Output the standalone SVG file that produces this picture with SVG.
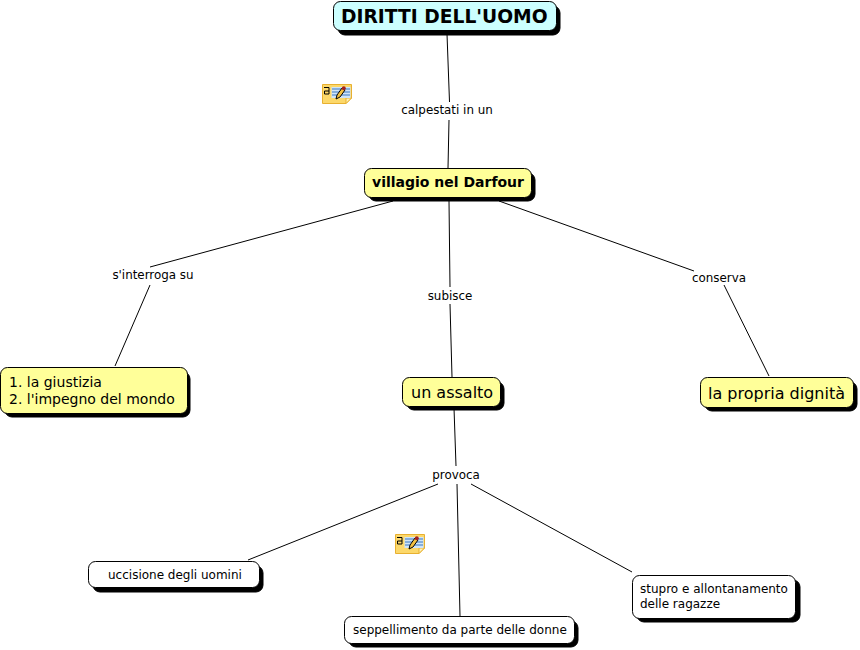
<svg xmlns="http://www.w3.org/2000/svg" width="860" height="650" viewBox="0 0 860 650">
<style>
text{font-family:"DejaVu Sans",Verdana,sans-serif;fill:#000}
.c{fill:none;stroke:#000;stroke-width:1}
.s{fill:#000;stroke:#000}
.b{stroke:#000;stroke-width:1}
.y{fill:#ffff99}.w{fill:#fff}.a{fill:#ccffff}
.l{font-size:11.9px;text-anchor:middle}
.n{font-size:16px}
.g{font-size:14px}
.m{font-size:12px}
</style>
<defs>
<g id="note">
<path d="M0.500 0.500H29.500V14L24 19.500H0.500Z" fill="#fcd86a" stroke="#e8b030"/>
<path d="M24 19.500V14H29.500Z" fill="#fff2b8" stroke="#e8b030"/>
<rect x="9.500" y="3" width="19" height="11" fill="#cfe4f8"/>
<path d="M10 5H28M10 8H28M10 11H28" stroke="#3a78c0" stroke-width="1"/>
<path d="M2 3.500H7V10H2.500V7H7" fill="none" stroke="#000" stroke-width="1"/>
<path d="M14 15L15 11L20 4L23 6L18 13Z" fill="#f2c040" stroke="#000" stroke-width="1"/>
<circle cx="21.800" cy="4.300" r="2" fill="#a02020"/>
</g>
</defs>
<rect width="860" height="650" fill="#fff"/>
<g id="connectors">
<path class="c" d="M447 34L449.500 102M449 120L448 168"/>
<path class="c" d="M393 201L150 267M150 285L115 366"/>
<path class="c" d="M449 201L450 287M450 304L452 377"/>
<path class="c" d="M499 201L694 271M724 285L769 376"/>
<path class="c" d="M454 408L456 466"/>
<path class="c" d="M438 484L248 560"/>
<path class="c" d="M457 484L460 616"/>
<path class="c" d="M471 484L632 572"/>
</g>
<g id="link-labels">
<text class="l" x="447" y="114">calpestati in un</text>
<text class="l" x="153" y="279">s'interroga su</text>
<text class="l" x="450" y="300">subisce</text>
<text class="l" x="719" y="282">conserva</text>
<text class="l" x="456" y="479">provoca</text>
</g>
<g id="node-diritti">
<rect class="s" x="338" y="6" width="222" height="29" rx="7"/>
<rect class="a b" x="333.500" y="1.500" width="223" height="29" rx="7"/>
<text x="341" y="23" font-size="18.700" font-weight="bold">DIRITTI DELL'UOMO</text>
</g>
<g id="node-villagio">
<rect class="s" x="369" y="173" width="166" height="28" rx="7"/>
<rect class="y b" x="364.500" y="168.500" width="167" height="29" rx="7"/>
<text x="372" y="187" font-size="14" font-weight="bold">villagio nel Darfour</text>
</g>
<g id="node-giustizia">
<rect class="s" x="5" y="372" width="185" height="45" rx="7"/>
<rect class="y b" x="0.500" y="367.500" width="187" height="46" rx="7"/>
<text class="g" x="9" y="387">1. la giustizia</text>
<text class="g" x="9" y="404">2. l'impegno del mondo</text>
</g>
<g id="node-assalto">
<rect class="s" x="407" y="382" width="97" height="28" rx="7"/>
<rect class="y b" x="402.500" y="377.500" width="98" height="29" rx="7"/>
<text class="n" x="411" y="398">un assalto</text>
</g>
<g id="node-dignita">
<rect class="s" x="705" y="382" width="152" height="29" rx="7"/>
<rect class="y b" x="700.500" y="377.500" width="153" height="30" rx="7"/>
<text class="n" x="708" y="399">la propria dignità</text>
</g>
<g id="node-uccisione">
<rect class="s" x="93" y="566" width="170" height="26" rx="7"/>
<rect class="w b" x="88.500" y="561.500" width="171" height="26" rx="7"/>
<text class="m" x="108" y="579">uccisione degli uomini</text>
</g>
<g id="node-seppellimento">
<rect class="s" x="349" y="621" width="229" height="26" rx="7"/>
<rect class="w b" x="344.500" y="616.500" width="230" height="27" rx="7"/>
<text class="m" x="353" y="634">seppellimento da parte delle donne</text>
</g>
<g id="node-stupro">
<rect class="s" x="637" y="580" width="163" height="42" rx="7"/>
<rect class="w b" x="632.500" y="575.500" width="163" height="43" rx="7"/>
<text class="m" x="640" y="593">stupro e allontanamento</text>
<text class="m" x="640" y="608">delle ragazze</text>
</g>
<g id="note-icon-1"><use href="#note" x="322" y="84"/></g>
<g id="note-icon-2"><use href="#note" x="395" y="534"/></g>
</svg>
